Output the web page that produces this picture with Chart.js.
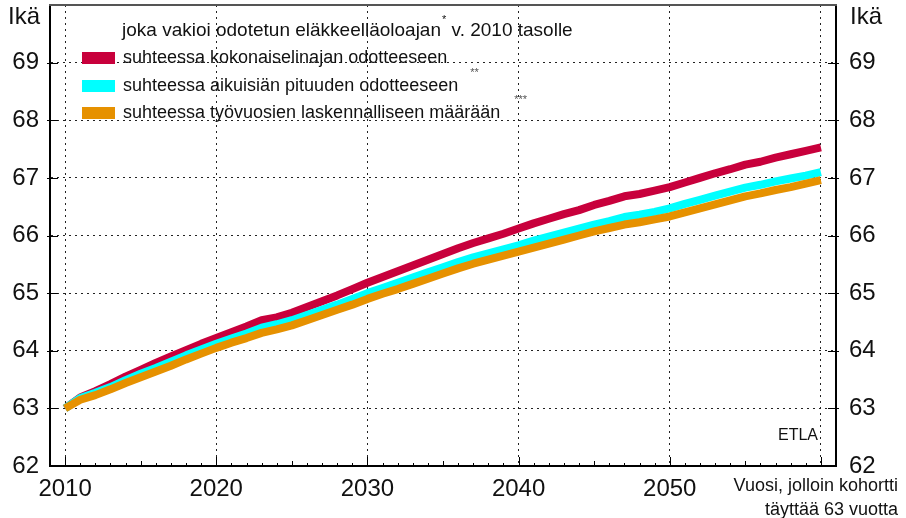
<!DOCTYPE html>
<html>
<head>
<meta charset="utf-8">
<script src="https://cdn.jsdelivr.net/npm/chart.js@4.4.1/dist/chart.umd.min.js"></script>
<style>
  body { margin: 0; background: #fff; }
</style>
</head>
<body>
<canvas id="myChart" width="906" height="518"></canvas>
<script>
// vuodet, jolloin kohortti täyttää 63 vuotta
const years = [2010, 2011, 2012, 2013, 2014, 2015, 2016, 2017, 2018, 2019,
    2020, 2021, 2022, 2023, 2024, 2025, 2026, 2027, 2028, 2029,
    2030, 2031, 2032, 2033, 2034, 2035, 2036, 2037, 2038, 2039,
    2040, 2041, 2042, 2043, 2044, 2045, 2046, 2047, 2048, 2049,
    2050, 2051, 2052, 2053, 2054, 2055, 2056, 2057, 2058, 2059, 2060];
const kokonaiselinaika = [63.00, 63.19, 63.30, 63.42, 63.55, 63.67, 63.79, 63.90, 64.01, 64.12,
    64.22, 64.32, 64.42, 64.53, 64.58, 64.66, 64.76, 64.86, 64.96, 65.07,
    65.18, 65.28, 65.38, 65.48, 65.58, 65.68, 65.78, 65.87, 65.95, 66.03,
    66.12, 66.21, 66.29, 66.37, 66.44, 66.53, 66.60, 66.68, 66.72, 66.78,
    66.84, 66.92, 67.00, 67.08, 67.15, 67.23, 67.28, 67.35, 67.41, 67.47, 67.53];
const aikuisPituus = [63.00, 63.18, 63.27, 63.37, 63.49, 63.60, 63.70, 63.81, 63.92, 64.02,
    64.12, 64.21, 64.30, 64.40, 64.46, 64.53, 64.62, 64.71, 64.80, 64.90,
    65.00, 65.09, 65.18, 65.27, 65.36, 65.45, 65.54, 65.62, 65.69, 65.76,
    65.83, 65.91, 65.98, 66.05, 66.12, 66.19, 66.25, 66.32, 66.36, 66.41,
    66.47, 66.55, 66.62, 66.69, 66.76, 66.83, 66.88, 66.94, 66.99, 67.04, 67.10];
const tyovuodet = [63.00, 63.15, 63.23, 63.33, 63.44, 63.54, 63.64, 63.74, 63.85, 63.95,
    64.05, 64.14, 64.22, 64.31, 64.37, 64.44, 64.53, 64.62, 64.71, 64.80,
    64.90, 64.99, 65.07, 65.16, 65.25, 65.34, 65.43, 65.51, 65.58, 65.65,
    65.72, 65.79, 65.86, 65.93, 66.00, 66.07, 66.13, 66.19, 66.23, 66.28,
    66.33, 66.40, 66.47, 66.54, 66.61, 66.68, 66.73, 66.79, 66.84, 66.90, 66.96];

const xGridYears = [2010, 2020, 2030, 2040, 2050, 2060];
const xLabels = ['2010', '2020', '2030', '2040', '2050', ''];
const yTicks = [62, 63, 64, 65, 66, 67, 68, 69, 70];
const yLabels = ['62', '63', '64', '65', '66', '67', '68', '69', ''];

const legendTitle = ['joka vakioi odotetun eläkkeelläoloajan', '*', ' v. 2010 tasolle'];
const seriesNames = ['suhteessa kokonaiselinajan odotteeseen',
    'suhteessa aikuisiän pituuden odotteeseen',
    'suhteessa työvuosien laskennalliseen määrään'];
const seriesMarks = ['', '**', '***'];
const seriesColors = ['#c8003c', '#00ffff', '#e69100'];
const axisTitle = 'Ikä';
const xTitle = ['Vuosi, jolloin kohortti', 'täyttää 63 vuotta'];
const source = 'ETLA';

const FONT = '"Liberation Sans", Arial, sans-serif';
Chart.defaults.font.family = FONT;
Chart.defaults.color = '#111';

const toPoints = vals => years.map((yr, i) => ({ x: yr, y: vals[i] }));

const noPad = s => {
    s.paddingTop = 0;
    s.paddingBottom = 0;
    s.paddingLeft = 0;
    s.paddingRight = 0;
};

const extras = {
    id: 'extras',
    afterDraw(chart) {
        const { ctx, chartArea: a, scales: { x, y } } = chart;
        ctx.save();
        // top frame
        ctx.strokeStyle = '#555';
        ctx.lineWidth = 2;
        ctx.beginPath();
        ctx.moveTo(a.left - 1, a.top);
        ctx.lineTo(a.right + 1, a.top);
        ctx.stroke();
        // year ticks inside the plot
        ctx.strokeStyle = '#000';
        ctx.lineWidth = 1;
        years.forEach(yr => {
            const px = Math.round(x.getPixelForValue(yr)) + 0.5;
            const len = yr % 10 === 0 ? 9 : (yr % 5 === 0 ? 5 : 3);
            ctx.beginPath();
            ctx.moveTo(px, a.bottom);
            ctx.lineTo(px, a.bottom - len);
            ctx.stroke();
        });
        // age ticks on both sides
        yTicks.slice(1, -1).forEach(v => {
            const py = Math.round(y.getPixelForValue(v)) + 0.5;
            ctx.beginPath();
            ctx.moveTo(a.left - 3, py);
            ctx.lineTo(a.left + 8, py);
            ctx.moveTo(a.right - 8, py);
            ctx.lineTo(a.right + 3, py);
            ctx.stroke();
        });
        // axis captions
        ctx.fillStyle = '#111';
        ctx.textBaseline = 'middle';
        ctx.font = '24px ' + FONT;
        ctx.textAlign = 'left';
        ctx.fillText(axisTitle, 8, 17);
        ctx.fillText(axisTitle, 850, 17);
        ctx.font = '18px ' + FONT;
        ctx.textAlign = 'right';
        ctx.fillText(xTitle[0], 898, 486);
        ctx.fillText(xTitle[1], 898, 510);
        ctx.font = '16px ' + FONT;
        ctx.fillText(source, 818, 436);
        // legend
        ctx.textAlign = 'left';
        ctx.font = '19px ' + FONT;
        let tx = 122;
        ctx.fillText(legendTitle[0], tx, 31);
        tx += ctx.measureText(legendTitle[0]).width + 1;
        ctx.font = '11px ' + FONT;
        ctx.fillText(legendTitle[1], tx, 20);
        tx += ctx.measureText(legendTitle[1]).width;
        ctx.font = '19px ' + FONT;
        ctx.fillText(legendTitle[2], tx, 31);
        const rows = [58, 86, 113];
        seriesNames.forEach((name, i) => {
            ctx.fillStyle = seriesColors[i];
            ctx.fillRect(82, rows[i] - 6, 33, 12);
            ctx.fillStyle = '#111';
            ctx.font = '18px ' + FONT;
            ctx.fillText(name, 123, rows[i]);
            if (seriesMarks[i]) {
                const w = ctx.measureText(name).width;
                ctx.font = '11px ' + FONT;
                ctx.fillStyle = '#555';
                ctx.fillText(seriesMarks[i], 123 + w + 10 + i * 2, rows[i] - 13);
            }
        });
        ctx.restore();
    }
};

const yAxis = (position, width) => ({
    type: 'linear',
    position: position,
    min: 62,
    max: 70,
    afterBuildTicks: s => { s.ticks = yTicks.map(v => ({ value: v })); },
    afterFit: s => { s.width = width; noPad(s); },
    ticks: {
        callback: (v, i) => yLabels[i],
        font: { size: 24 },
        color: '#111',
        padding: position === 'left' ? 11 : 13
    },
    grid: {
        drawOnChartArea: position === 'left',
        drawTicks: false,
        color: '#222',
        lineWidth: 1
    },
    border: { color: '#000', width: 2, dash: [2, 4] }
});

new Chart(document.getElementById('myChart'), {
    type: 'line',
    data: {
        datasets: [
            { label: seriesNames[0], data: toPoints(kokonaiselinaika), borderColor: seriesColors[0], order: 3 },
            { label: seriesNames[1], data: toPoints(aikuisPituus), borderColor: seriesColors[1], order: 2 },
            { label: seriesNames[2], data: toPoints(tyovuodet), borderColor: seriesColors[2], order: 1 }
        ]
    },
    options: {
        responsive: false,
        animation: false,
        layout: { padding: { top: 5 } },
        elements: {
            line: { borderWidth: 8, tension: 0, borderCapStyle: 'butt', borderJoinStyle: 'round' },
            point: { radius: 0 }
        },
        plugins: { legend: { display: false }, tooltip: { enabled: false } },
        scales: {
            x: {
                type: 'linear',
                min: 2009,
                max: 2061,
                afterBuildTicks: s => { s.ticks = xGridYears.map(v => ({ value: v })); },
                afterFit: s => { s.height = 52; noPad(s); },
                ticks: {
                    callback: (v, i) => xLabels[i],
                    font: { size: 24 },
                    color: '#111',
                    padding: 9,
                    maxRotation: 0,
                    autoSkip: false
                },
                grid: { drawTicks: false, color: '#222', lineWidth: 1 },
                border: { color: '#000', width: 2, dash: [2, 4] }
            },
            y: yAxis('left', 50),
            y2: yAxis('right', 70)
        }
    },
    plugins: [extras]
});
</script>
</body>
</html>
